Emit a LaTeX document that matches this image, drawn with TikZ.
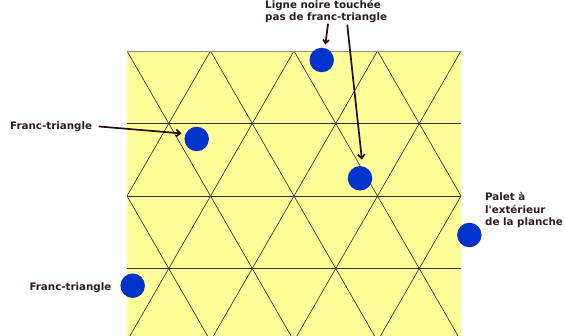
\documentclass[tikz,border=0pt]{standalone}
\usepackage{fontspec}
\setmainfont{DejaVu Sans}
\usetikzlibrary{arrows.meta}
\definecolor{board}{HTML}{FFFF99}
\definecolor{puck}{HTML}{0033CC}
\definecolor{ink}{HTML}{2B1A20}
\definecolor{arrowc}{HTML}{2A0818}
\begin{document}
\begin{tikzpicture}[x=1pt,y=-1pt,
  gridline/.style={draw=black!85, line width=0.6pt},
  hline/.style={draw=black!80, line width=0.8pt},
  topline/.style={draw=black!45, line width=0.9pt},
  disc/.style={circle, fill=puck, minimum size=24.5pt, inner sep=0pt},
  lbl/.style={text=ink, inner sep=0pt, font=\fontsize{10.3}{12.5}\selectfont\bfseries},
  arr/.style={draw=arrowc, line width=1.7pt, line cap=round, -{Straight Barb[length=4pt,width=7pt]}}]
\useasboundingbox (0,0) rectangle (565,336);
\fill[board] (127,51) rectangle (461,336);
\begin{scope}
  \clip (127,51) rectangle (461,336);
  \foreach \i in {-4,...,8} {
    \draw[gridline] ({127+83.5*\i},51) -- ++({41.75*5},{72.5*5});
    \draw[gridline] ({127+83.5*\i},51) -- ++({-41.75*5},{72.5*5});
  }
  \foreach \k in {1,2,3} \draw[hline] (127,{51+72.6*\k}) -- (461,{51+72.6*\k});
\end{scope}
\draw[topline] (127,51) -- (461,51);

\node[disc] (d1) at (321.7,60) {};
\node[disc] (d2) at (196.7,139) {};
\node[disc] (d3) at (360,178.3) {};
\node[disc] (d4) at (469.3,235) {};
\node[disc] (d5) at (132.7,285.7) {};

\node[lbl, anchor=base west] (t1) at (10,129.3) {Franc-triangle};
\node[lbl, anchor=base west] (t2) at (29.3,290.7) {Franc-triangle};
\node[lbl, anchor=base west, align=left] (t3) at (265,20.7) {Ligne noire touchée\\pas de franc-triangle};
\node[lbl, anchor=base west, align=left] (t4) at (485,226) {Palet à\\l\textquotesingle extérieur\\de la planche};

\draw[arr, shorten >=4pt] ([xshift=7pt]t1.east) -- (d2.155);
\draw[arr, shorten >=3.5pt, -{Straight Barb[length=3.5pt,width=6pt]}] ([xshift=63pt,yshift=-1pt]t3.south west) -- (d1.75);
\draw[arr, shorten >=6.5pt] ([xshift=82.3pt,yshift=-2pt]t3.south west) -- (d3.78);
\end{tikzpicture}
\end{document}
